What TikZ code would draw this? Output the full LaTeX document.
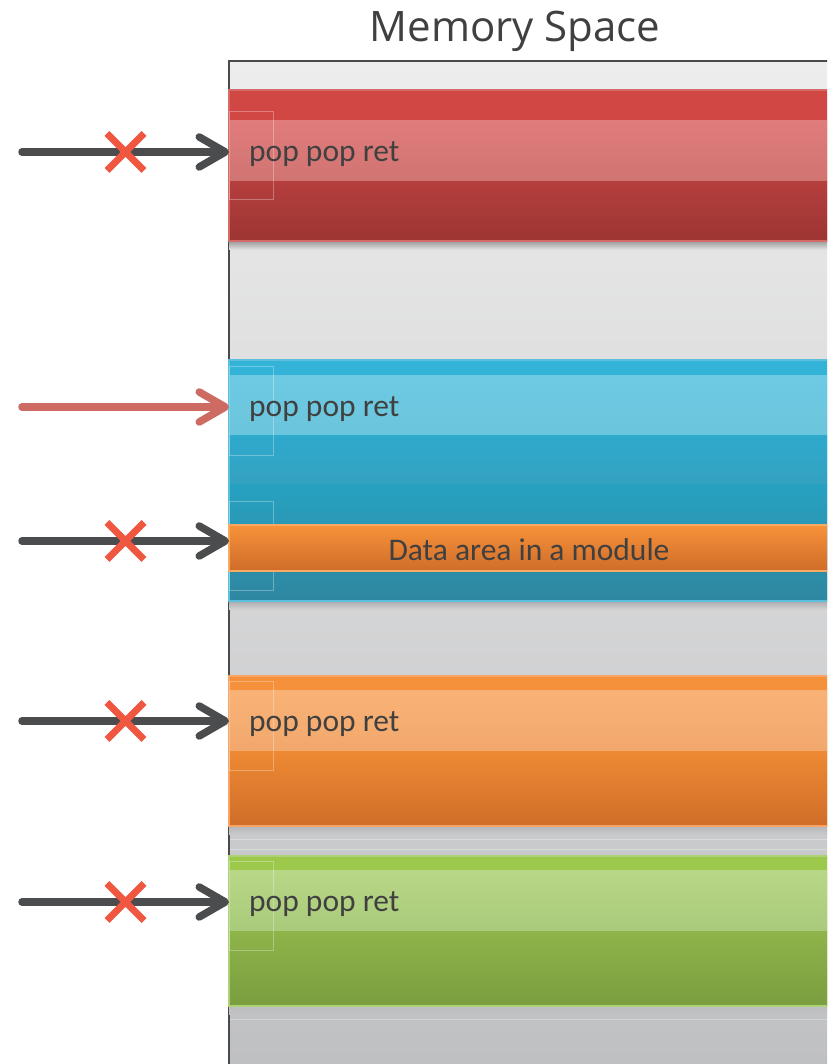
\documentclass[tikz,border=0pt]{standalone}
\usepackage{fontspec}
\setmainfont{Carlito}
\newfontfamily\titlefont{Open Sans}
\usetikzlibrary{arrows.meta,shapes.misc}

\definecolor{ink}{HTML}{404040}
\definecolor{frame}{HTML}{4A4A4A}
\definecolor{bgtop}{HTML}{EDEDED}
\definecolor{bgbot}{HTML}{BFC0C2}
\definecolor{arrowgray}{HTML}{4B4C4E}
\definecolor{arrowred}{HTML}{CD6B63}
\definecolor{xred}{HTML}{EF5741}
% red block
\definecolor{redtop}{HTML}{D04744}
\definecolor{redstripT}{HTML}{E07C7B}
\definecolor{redstripB}{HTML}{D07472}
\definecolor{redlowT}{HTML}{B53F3D}
\definecolor{redlowB}{HTML}{9C3533}
\definecolor{redline}{HTML}{D56B68}
% blue block
\definecolor{bluetop}{HTML}{33B3D8}
\definecolor{bluestripT}{HTML}{6DCAE3}
\definecolor{bluestripB}{HTML}{6BC5DC}
\definecolor{bluemidT}{HTML}{2EAACD}
\definecolor{bluemidB}{HTML}{34A1C0}
\definecolor{bluelowT}{HTML}{27A1C1}
\definecolor{bluelowB}{HTML}{2F87A0}
\definecolor{blueline}{HTML}{5CBFDD}
% orange block
\definecolor{ortop}{HTML}{F6913B}
\definecolor{orstripT}{HTML}{F9B276}
\definecolor{orstripB}{HTML}{F2A86C}
\definecolor{orlowT}{HTML}{EE8A33}
\definecolor{orlowB}{HTML}{CF6D29}
\definecolor{orline}{HTML}{F9A466}
% data area
\definecolor{dataT}{HTML}{F7923A}
\definecolor{dataB}{HTML}{CF6C29}
\definecolor{dataline}{HTML}{F8A962}
% green block
\definecolor{grtop}{HTML}{9CC84C}
\definecolor{grstripT}{HTML}{B8D888}
\definecolor{grstripB}{HTML}{AACA7B}
\definecolor{grlowT}{HTML}{8FB44A}
\definecolor{grlowB}{HTML}{7A9D3F}
\definecolor{grline}{HTML}{ADD276}

\begin{document}
\begin{tikzpicture}[x=1pt,y=1pt,
  blockbox/.style={rectangle, inner sep=0pt, outer sep=0pt, minimum width=600pt, anchor=south west},
  poplabel/.style={anchor=base west, inner sep=0pt, font=\fontsize{31.5}{36}\selectfont, text=ink},
  entry/.style={line width=7.5pt, line cap=round, draw=arrowgray,
    -{Straight Barb[length=26pt,width=30pt,round]}},
  goodentry/.style={entry, draw=arrowred},
  xmark/.style={cross out, draw=xred, line width=7pt, minimum size=30pt,
    inner sep=0pt, arrows=-, line cap=butt},
  slot/.style={draw=white, draw opacity=0.3, line width=0.8pt},
  edge/.style={line width=1.2pt},
  gloss/.style={draw=white, draw opacity=0.3, line width=1pt}
]
\clip (0,0) rectangle (827,1064);
\fill[white] (0,0) rectangle (827,1064);

% memory region
\node[blockbox, minimum height=1003pt, top color=bgtop, bottom color=bgbot] (mem) at (229,0) {};
\draw[gloss] (229,224) -- (830,224);
\draw[gloss] (229,214) -- (830,214);
\draw[gloss] (229,44) -- (830,44);
\draw[frame, line width=2pt] (mem.south west) -- (mem.north west) -- (mem.north east);
\node[anchor=base, inner sep=0pt, font=\titlefont\fontsize{42}{48}\selectfont, text=ink] (title) at (515,1022) {Memory Space};

% shadows below the blocks
\shade[top color=black!38!bgtop!82!bgbot, bottom color=bgtop!82!bgbot] (229,814) rectangle (830,823);
\shade[top color=black!38!bgtop!46!bgbot, bottom color=bgtop!46!bgbot] (229,454) rectangle (830,463);
\shade[top color=black!38!bgtop!24!bgbot, bottom color=bgtop!24!bgbot] (229,229) rectangle (830,238);
\shade[top color=black!38!bgtop!6!bgbot, bottom color=bgtop!6!bgbot] (229,49) rectangle (830,58);

% red block
\node[blockbox, minimum height=151pt, fill=redtop] (red) at (229,823) {};
\shade[top color=redlowT, bottom color=redlowB] (229,823) rectangle (830,883);
\node[blockbox, minimum height=60pt, top color=redstripT, bottom color=redstripB] (redstrip) at (229,883) {};
\draw[redline, edge] (red.south west) rectangle (red.north east);
\draw[slot] (229,865) rectangle (273,953);
\node[poplabel] (redtext) at ([xshift=20pt,yshift=-11pt]redstrip.west) {pop pop ret};

% blue block
\node[blockbox, minimum height=241pt, fill=bluetop] (blue) at (229,463) {};
\shade[top color=bluemidT, bottom color=bluemidB] (229,579) rectangle (830,629);
\shade[top color=bluelowT, bottom color=bluelowB] (229,463) rectangle (830,579);
\node[blockbox, minimum height=59pt, top color=bluestripT, bottom color=bluestripB] (bluestrip) at (229,629) {};
\draw[blueline, edge] (blue.south west) rectangle (blue.north east);
\draw[slot] (229,609) rectangle (273,698);
\draw[slot] (229,474) rectangle (273,563);
\node[poplabel] (bluetext) at ([xshift=20pt,yshift=-11.5pt]bluestrip.west) {pop pop ret};

% data area inside the blue block
\node[blockbox, minimum height=46pt, top color=dataT, bottom color=dataB,
  draw=dataline, line width=1.5pt] (data) at (229,493) {};
\node[inner sep=0pt, font=\fontsize{31.5}{36}\selectfont, text=ink] (datatext)
  at ([yshift=-2pt]data.center) {Data area in a module};

% orange block
\node[blockbox, minimum height=150pt, fill=ortop] (orange) at (229,238) {};
\shade[top color=orlowT, bottom color=orlowB] (229,238) rectangle (830,313);
\node[blockbox, minimum height=60pt, top color=orstripT, bottom color=orstripB] (orstrip) at (229,313) {};
\draw[orline, edge] (orange.south west) rectangle (orange.north east);
\draw[slot] (229,294) rectangle (273,383);
\node[poplabel] (ortext) at ([xshift=20pt,yshift=-11pt]orstrip.west) {pop pop ret};

% green block
\node[blockbox, minimum height=150pt, fill=grtop] (green) at (229,58) {};
\shade[top color=grlowT, bottom color=grlowB] (229,58) rectangle (830,133);
\node[blockbox, minimum height=60pt, top color=grstripT, bottom color=grstripB] (grstrip) at (229,133) {};
\draw[grline, edge] (green.south west) rectangle (green.north east);
\draw[slot] (229,114) rectangle (273,203);
\node[poplabel] (grtext) at ([xshift=20pt,yshift=-11pt]grstrip.west) {pop pop ret};

% entry points into the memory space
\coordinate (s1) at (22,912);
\coordinate (s2) at (22,657);
\coordinate (s3) at (22,523);
\coordinate (s4) at (22,343);
\coordinate (s5) at (22,162);

\draw[entry] (s1) -- node[xmark]{} (s1 -| redstrip.west);
\draw[goodentry] (s2) -- (s2 -| bluestrip.west);
\draw[entry] (s3) -- node[xmark]{} (s3 -| data.west);
\draw[entry] (s4) -- node[xmark]{} (s4 -| orstrip.west);
\draw[entry] (s5) -- node[xmark]{} (s5 -| grstrip.west);
\end{tikzpicture}
\end{document}
